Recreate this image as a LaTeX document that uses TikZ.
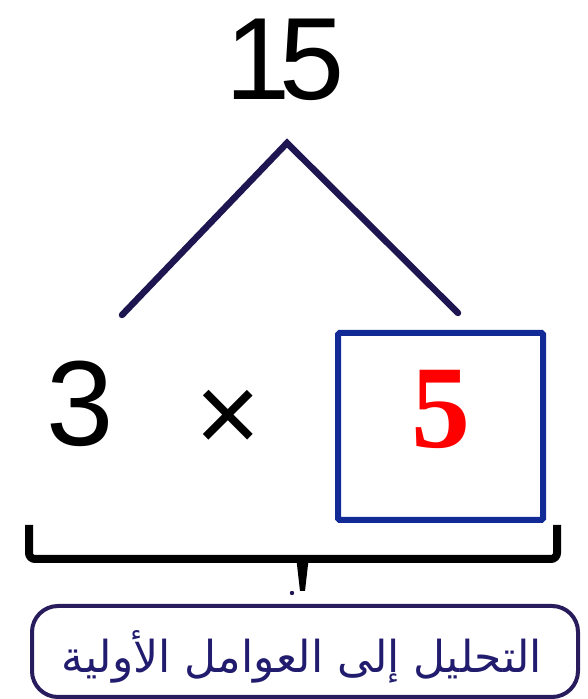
\documentclass[tikz,border=0pt]{standalone}
\usepackage{fontspec}
\setmainfont{Liberation Sans}
\newfontfamily\serifnum{Liberation Serif}
\newfontfamily\arabicfont[Script=Arabic]{DejaVu Sans}
\TeXXeTstate=1
\definecolor{legnavy}{RGB}{30,22,80}
\definecolor{boxblue}{RGB}{18,42,150}
\definecolor{tagnavy}{RGB}{40,28,92}
\definecolor{tagtext}{RGB}{34,28,110}
\begin{document}
\begin{tikzpicture}[x=1pt, y=1pt, every node/.style={inner sep=0pt, outer sep=0pt}]
\useasboundingbox (0,0) rectangle (587,699);
% number being factored
\node[anchor=base, font=\fontsize{117}{117}\selectfont] (top) at (285,599) {1\kern-10.5pt 5};
\coordinate (apex) at (287,556);
\coordinate (legL) at (122,384);
\coordinate (legR) at (458,386);
\draw[legnavy, line width=6.5pt, line cap=round, line join=miter] (legL) -- (apex) -- (legR);
% factors
\node[anchor=base, font=\fontsize{121}{121}\selectfont] (three) at (80,253) {3};
\node[anchor=base, font=\fontsize{112}{112}\selectfont] (times) at (228,246) {×};
\node[draw=boxblue, line width=6pt, minimum width=205pt, minimum height=187pt, rounded corners=1.5pt] (ansbox) at (440.5,272.5) {};
\node[anchor=base, text=red, font=\fontsize{118}{118}\selectfont\serifnum\bfseries] (five) at (441,251) {5};
% brace
\draw[black, line width=8pt, rounded corners=6pt] (29,174) -- (29,140) -- (557,140) -- (557,174);
\fill[black] (296,143) -- (309,143) -- (305,108) -- (300,108) -- cycle;
\fill[legnavy] (292,106) circle (2.2pt);
% label
\node[draw=tagnavy, line width=4pt, rounded corners=26pt, minimum width=546pt, minimum height=91pt] (tag) at (305,47.5) {};
\node[anchor=base, text=tagtext, font=\fontsize{44}{44}\arabicfont] (tagtxt) at (302,27) {\beginR التحليل إلى العوامل الأولية\endR};
\end{tikzpicture}
\end{document}
